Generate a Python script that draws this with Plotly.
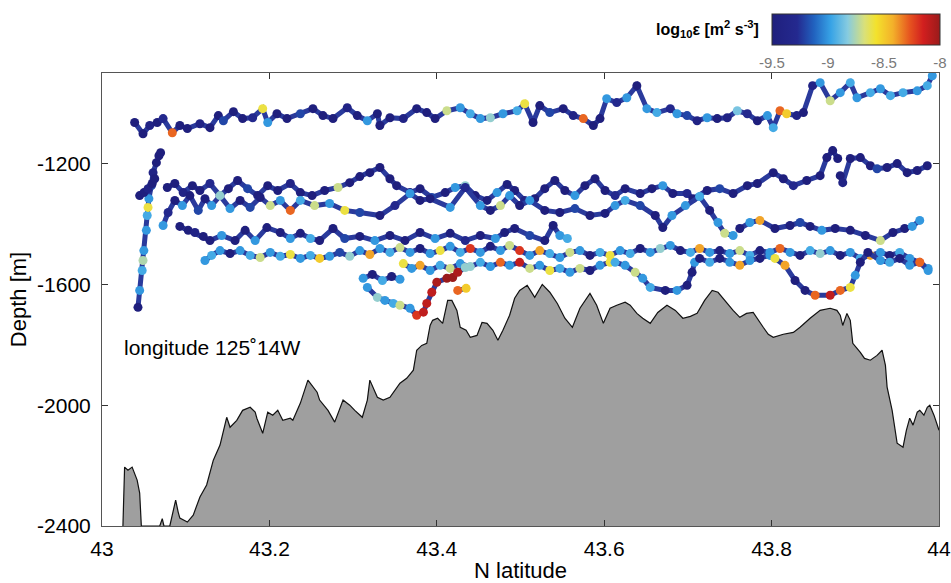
import plotly.graph_objects as go

# ---------------- data ----------------
x_tickvals = [43.0, 43.2, 43.4, 43.6, 43.8, 44.0]
x_ticktext = ["43", "43.2", "43.4", "43.6", "43.8", "44"]
y_tickvals = [-2400, -2000, -1600, -1200]
y_ticktext = ["-2400", "-2000", "-1600", "-1200"]
cb_tickvals = [-9.5, -9.0, -8.5, -8.0]
cb_ticktext = ["-9.5", "-9", "-8.5", "-8"]

bathy_lat = [43.025, 43.027, 43.031, 43.036, 43.042, 43.045, 43.047, 43.069, 43.072, 43.074,
             43.081, 43.088, 43.091, 43.093, 43.102, 43.109, 43.117, 43.125, 43.133, 43.141,
             43.149, 43.153, 43.161, 43.168, 43.177, 43.183, 43.185, 43.192, 43.198, 43.204,
             43.210, 43.216, 43.225, 43.228, 43.237, 43.246, 43.257, 43.260, 43.270, 43.278,
             43.288, 43.296, 43.302, 43.311, 43.317, 43.320, 43.329, 43.336, 43.344, 43.356,
             43.364, 43.372, 43.376, 43.382, 43.388, 43.392, 43.395, 43.401, 43.407, 43.413,
             43.418, 43.424, 43.428, 43.435, 43.440, 43.448, 43.454, 43.460, 43.467, 43.473,
             43.479, 43.487, 43.493, 43.499, 43.508, 43.517, 43.526, 43.535, 43.544, 43.553,
             43.562, 43.571, 43.583, 43.591, 43.599, 43.607, 43.615, 43.625, 43.631, 43.639,
             43.646, 43.655, 43.664, 43.675, 43.685, 43.694, 43.703, 43.711, 43.720, 43.729,
             43.736, 43.747, 43.754, 43.762, 43.770, 43.778, 43.784, 43.790, 43.796, 43.802,
             43.814, 43.826, 43.834, 43.846, 43.858, 43.870, 43.878, 43.882, 43.885, 43.890,
             43.894, 43.897, 43.906, 43.911, 43.918, 43.926, 43.932, 43.936, 43.938, 43.944,
             43.950, 43.953, 43.957, 43.961, 43.965, 43.969, 43.974, 43.977, 43.982, 43.986,
             43.989, 43.994, 44.0]
bathy_dep = [-2400, -2205, -2215, -2205, -2248, -2291, -2400, -2400, -2376, -2400,
             -2400, -2314, -2354, -2374, -2387, -2364, -2304, -2264, -2182, -2132,
             -2040, -2073, -2050, -2017, -2007, -2023, -2043, -2093, -2023, -2033,
             -2017, -2050, -2043, -2050, -1993, -1917, -1957, -1983, -2017, -2056,
             -1983, -2000, -2017, -2040, -1983, -1917, -1974, -1983, -1974, -1927,
             -1911, -1884, -1818, -1802, -1795, -1736, -1719, -1712, -1729, -1653,
             -1653, -1686, -1742, -1752, -1775, -1769, -1726, -1729, -1752, -1785,
             -1752, -1702, -1646, -1620, -1603, -1643, -1600, -1626, -1663, -1712,
             -1742, -1679, -1630, -1669, -1729, -1679, -1669, -1659, -1669, -1696,
             -1712, -1729, -1693, -1669, -1686, -1712, -1706, -1696, -1653, -1620,
             -1626, -1663, -1686, -1709, -1696, -1693, -1719, -1742, -1765, -1775,
             -1765, -1759, -1742, -1712, -1686, -1679, -1686, -1702, -1736, -1696,
             -1719, -1795, -1825, -1845, -1851, -1835, -1818, -1868, -1940, -2017,
             -2126, -2132, -2139, -2083, -2043, -2066, -2023, -2017, -2033, -2007,
             -2000, -2033, -2083]

# track 1 (shallowest)
t1_lat = [43.039, 43.049, 43.057, 43.066, 43.073, 43.084, 43.093, 43.102, 43.117, 43.129,
          43.139, 43.145, 43.157, 43.168, 43.180, 43.192, 43.198, 43.209, 43.221, 43.237,
          43.252, 43.264, 43.276, 43.293, 43.305, 43.317, 43.329, 43.332, 43.344, 43.360,
          43.376, 43.388, 43.398, 43.412, 43.428, 43.440, 43.452, 43.464, 43.479, 43.496,
          43.505, 43.515, 43.523, 43.535, 43.551, 43.563, 43.575, 43.587, 43.595, 43.603,
          43.615, 43.627, 43.639, 43.651, 43.663, 43.679, 43.687, 43.699, 43.711, 43.723,
          43.735, 43.747, 43.759, 43.771, 43.783, 43.795, 43.802, 43.810, 43.818, 43.830,
          43.838, 43.849, 43.858, 43.870, 43.882, 43.894, 43.902, 43.918, 43.930, 43.942,
          43.957, 43.974, 43.986, 43.992]
t1_dep = [-1064, -1101, -1074, -1064, -1051, -1098, -1074, -1084, -1068, -1081,
          -1041, -1058, -1028, -1051, -1048, -1018, -1064, -1035, -1051, -1035,
          -1018, -1041, -1051, -1015, -1041, -1058, -1035, -1074, -1048, -1051,
          -1018, -1031, -1051, -1025, -1015, -1035, -1051, -1048, -1035, -1025,
          -1002, -1064, -1008, -1031, -1018, -1041, -1051, -1074, -1051, -985,
          -998, -982, -942, -1018, -1031, -1018, -1035, -1041, -1058, -1048,
          -1051, -1048, -1025, -1035, -1058, -1041, -1081, -1025, -1035, -1041,
          -1031, -942, -932, -992, -965, -932, -982, -965, -952, -975,
          -965, -959, -942, -909]
t1_eps = [-9.5, -9.5, -9.4, -9.5, -9.3, -8.3, -9.5, -9.5, -9.4, -9.5,
          -9.5, -9.2, -9.5, -9.5, -9.3, -8.6, -9.0, -9.5, -9.5, -9.2,
          -9.5, -9.5, -9.5, -9.4, -9.5, -9.0, -9.5, -9.5, -9.5, -9.4,
          -9.5, -9.5, -9.5, -8.7, -9.0, -8.95, -9.0, -8.8, -9.0, -8.95,
          -8.6, -9.5, -9.5, -9.2, -9.5, -9.4, -8.3, -9.5, -9.5, -9.0,
          -9.3, -9.0, -9.5, -9.0, -8.95, -9.3, -9.0, -9.2, -9.4, -9.0,
          -9.5, -9.4, -8.85, -9.3, -9.5, -9.0, -8.95, -8.3, -8.5, -9.4,
          -9.5, -9.4, -9.0, -8.7, -9.0, -8.95, -9.0, -8.95, -9.0, -8.95,
          -8.95, -9.0, -8.95, -9.0]

# track 2 (steep rise near 43.05)
t2_lat = [43.043, 43.045, 43.048, 43.049, 43.050, 43.053, 43.054, 43.055, 43.056, 43.059,
          43.061, 43.065, 43.068, 43.070]
t2_dep = [-1676, -1620, -1554, -1521, -1488, -1421, -1372, -1345, -1316, -1273,
          -1230, -1197, -1174, -1164]
t2_eps = [-9.5, -9.0, -8.95, -8.75, -9.0, -9.0, -8.95, -8.6, -9.0, -9.2,
          -9.4, -9.5, -9.5, -9.5]
t2b_lat = [43.045, 43.050, 43.055, 43.060, 43.063]
t2b_dep = [-1306, -1296, -1283, -1266, -1250]
t2b_eps = [-9.5, -9.5, -9.4, -9.5, -9.5]

# track 3 (upper middle)
t3_lat = [43.078, 43.087, 43.097, 43.108, 43.117, 43.129, 43.141, 43.151, 43.162, 43.174,
          43.186, 43.198, 43.210, 43.225, 43.237, 43.251, 43.266, 43.282, 43.296, 43.308,
          43.320, 43.332, 43.344, 43.352, 43.368, 43.380, 43.394, 43.410, 43.422, 43.434,
          43.446, 43.460, 43.472, 43.484, 43.493, 43.505, 43.517, 43.529, 43.541, 43.553,
          43.565, 43.577, 43.589, 43.601, 43.613, 43.625, 43.643, 43.657, 43.670, 43.682,
          43.699, 43.706, 43.723, 43.738, 43.754, 43.771, 43.783, 43.802, 43.814, 43.826,
          43.842, 43.858, 43.866, 43.873, 43.879]
t3_dep = [-1279, -1266, -1296, -1273, -1289, -1266, -1306, -1283, -1256, -1283,
          -1306, -1273, -1289, -1266, -1296, -1306, -1289, -1279, -1263, -1243,
          -1230, -1213, -1250, -1273, -1296, -1283, -1312, -1296, -1279, -1273,
          -1306, -1322, -1296, -1269, -1289, -1322, -1316, -1283, -1256, -1289,
          -1306, -1273, -1250, -1289, -1306, -1283, -1299, -1283, -1273, -1299,
          -1299, -1316, -1289, -1283, -1299, -1273, -1266, -1230, -1250, -1273,
          -1256, -1240, -1180, -1157, -1183]
t3_eps = [-9.5, -9.5, -9.4, -9.5, -9.5, -9.3, -9.5, -9.5, -9.5, -9.2,
          -9.5, -9.5, -9.5, -9.4, -9.5, -9.5, -9.5, -8.7, -9.5, -9.5,
          -9.5, -9.5, -9.5, -9.5, -9.4, -9.5, -9.2, -9.5, -9.0, -8.8,
          -9.5, -9.5, -9.0, -9.5, -9.5, -9.4, -9.5, -9.5, -9.5, -9.5,
          -9.0, -9.5, -9.5, -9.5, -9.3, -9.5, -9.5, -9.5, -9.0, -9.5,
          -9.3, -9.5, -9.5, -9.2, -9.5, -9.5, -9.5, -9.5, -9.5, -9.3,
          -9.5, -9.5, -9.5, -9.5, -9.5]
t3b_lat = [43.882, 43.885, 43.894, 43.906, 43.918, 43.926, 43.938, 43.950, 43.962, 43.974, 43.986]
t3b_dep = [-1240, -1263, -1183, -1180, -1207, -1217, -1213, -1200, -1230, -1223, -1207]
t3b_eps = [-9.5, -9.4, -9.5, -9.5, -9.5, -9.2, -9.5, -9.5, -9.5, -9.5, -9.5]

# track 4 (second middle, mixed)
t4_lat = [43.073, 43.079, 43.087, 43.096, 43.105, 43.115, 43.123, 43.131, 43.141, 43.153,
          43.165, 43.177, 43.189, 43.201, 43.213, 43.225, 43.237, 43.254, 43.272, 43.290,
          43.308, 43.332, 43.350, 43.368, 43.380, 43.392, 43.416, 43.434, 43.452, 43.464,
          43.476, 43.487, 43.499, 43.511, 43.529, 43.547, 43.565, 43.583, 43.601, 43.613,
          43.625, 43.643, 43.661, 43.670, 43.681, 43.697, 43.714, 43.726, 43.736, 43.744,
          43.754]
t4_dep = [-1405, -1362, -1322, -1339, -1306, -1355, -1316, -1339, -1306, -1349,
          -1322, -1345, -1312, -1339, -1322, -1355, -1322, -1339, -1332, -1355,
          -1362, -1372, -1339, -1299, -1322, -1316, -1345, -1279, -1339, -1355,
          -1339, -1306, -1339, -1322, -1355, -1362, -1349, -1372, -1365, -1339,
          -1322, -1339, -1372, -1412, -1372, -1339, -1309, -1355, -1395, -1431,
          -1438]
t4_eps = [-9.0, -9.3, -9.5, -9.0, -9.5, -9.2, -9.5, -9.0, -8.8, -9.0,
          -9.5, -9.2, -9.5, -8.7, -9.0, -8.3, -8.95, -8.7, -9.0, -8.6,
          -9.2, -9.5, -9.3, -9.0, -9.5, -9.5, -9.0, -9.3, -9.0, -9.5,
          -8.7, -9.0, -9.5, -9.0, -9.5, -9.5, -9.2, -9.5, -9.5, -9.0,
          -8.95, -9.2, -9.5, -9.5, -9.0, -9.0, -8.95, -9.5, -9.0, -8.7,
          -9.0]
t4b_lat = [43.762, 43.774, 43.786, 43.804, 43.822, 43.834, 43.846, 43.860, 43.876, 43.894,
           43.912, 43.930, 43.945, 43.959, 43.968, 43.977]
t4b_dep = [-1415, -1395, -1388, -1415, -1405, -1395, -1408, -1421, -1415, -1421,
           -1438, -1455, -1428, -1415, -1408, -1388]
t4b_eps = [-9.5, -9.0, -8.4, -9.5, -9.5, -9.2, -9.5, -9.0, -9.5, -9.5,
           -9.5, -8.7, -9.5, -9.5, -9.0, -9.0]

# track 5 (left band near -1430 m)
t5_lat = [43.093, 43.103, 43.111, 43.121, 43.129, 43.143, 43.159, 43.171, 43.183, 43.197,
          43.213, 43.225, 43.237, 43.249, 43.260, 43.276, 43.290, 43.308, 43.326, 43.344,
          43.362, 43.380, 43.398, 43.416, 43.434, 43.452, 43.470, 43.481, 43.493, 43.511,
          43.529, 43.539, 43.547, 43.556]
t5_dep = [-1408, -1421, -1428, -1441, -1455, -1438, -1455, -1421, -1455, -1412,
          -1428, -1448, -1431, -1448, -1455, -1415, -1448, -1441, -1455, -1438,
          -1455, -1428, -1448, -1431, -1455, -1438, -1448, -1428, -1415, -1438,
          -1455, -1405, -1438, -1448]
t5_eps = [-9.5, -9.5, -9.4, -9.5, -9.5, -9.0, -9.5, -9.5, -9.0, -9.5,
          -9.5, -9.0, -9.5, -8.95, -9.5, -9.5, -9.2, -9.5, -9.0, -9.5,
          -9.5, -9.5, -9.0, -9.5, -9.3, -9.5, -9.0, -9.5, -9.5, -9.2,
          -9.5, -9.5, -9.0, -8.95]

# track 6 (upper part of the deep band)
t6_lat = [43.123, 43.131, 43.141, 43.153, 43.165, 43.177, 43.189, 43.201, 43.213, 43.225,
          43.237, 43.249, 43.260, 43.272, 43.284, 43.296, 43.308, 43.320, 43.332, 43.344,
          43.356, 43.368, 43.380, 43.392, 43.404, 43.416, 43.428, 43.440, 43.452, 43.464,
          43.476, 43.487, 43.499, 43.511, 43.523, 43.535, 43.547, 43.559, 43.571, 43.583,
          43.595, 43.607, 43.619, 43.631, 43.643, 43.655, 43.667, 43.679, 43.691, 43.703,
          43.714, 43.726, 43.738, 43.750, 43.762, 43.774, 43.786, 43.798, 43.810, 43.822,
          43.834, 43.846, 43.858, 43.870, 43.882, 43.894, 43.906, 43.918, 43.930, 43.941,
          43.953, 43.965, 43.977, 43.987]
t6_dep = [-1521, -1504, -1488, -1498, -1488, -1504, -1511, -1494, -1507, -1501,
          -1514, -1504, -1514, -1507, -1494, -1507, -1488, -1501, -1481, -1494,
          -1478, -1494, -1481, -1498, -1488, -1474, -1494, -1481, -1494, -1474,
          -1488, -1471, -1488, -1504, -1488, -1498, -1511, -1494, -1488, -1504,
          -1494, -1504, -1488, -1498, -1481, -1494, -1481, -1471, -1488, -1494,
          -1481, -1494, -1488, -1498, -1488, -1504, -1488, -1494, -1481, -1494,
          -1504, -1488, -1498, -1488, -1504, -1494, -1514, -1504, -1494, -1504,
          -1494, -1514, -1527, -1547]
t6_eps = [-9.0, -8.95, -9.0, -9.5, -9.0, -8.95, -8.7, -9.0, -8.95, -8.6,
          -9.0, -8.95, -8.5, -9.0, -9.2, -8.8, -9.0, -8.4, -9.0, -8.95,
          -8.7, -9.0, -9.5, -9.0, -8.6, -9.0, -8.95, -8.2, -9.0, -9.5,
          -9.0, -8.7, -8.2, -9.0, -8.4, -8.95, -9.0, -8.7, -9.0, -9.5,
          -8.95, -8.6, -9.0, -8.95, -9.5, -9.0, -8.8, -9.0, -9.5, -8.95,
          -8.4, -9.0, -9.5, -9.0, -8.7, -8.95, -9.5, -9.0, -8.3, -9.0,
          -9.5, -8.95, -8.8, -9.0, -9.5, -9.0, -8.95, -8.4, -9.0, -9.5,
          -8.95, -9.0, -8.2, -9.0]

# track 7 (lower part of the deep band, with two dips)
t7_lat = [43.360, 43.370, 43.380, 43.392, 43.404, 43.416, 43.428, 43.440, 43.452, 43.464,
          43.476, 43.487, 43.499, 43.511, 43.523, 43.535, 43.547, 43.559, 43.571, 43.583,
          43.595, 43.607, 43.613, 43.625, 43.637, 43.646, 43.655, 43.673, 43.687, 43.699,
          43.705, 43.708, 43.714, 43.726, 43.738, 43.750, 43.762, 43.774, 43.786, 43.798,
          43.804, 43.816, 43.828, 43.840, 43.852, 43.870, 43.882, 43.894, 43.900, 43.906,
          43.915, 43.930, 43.941, 43.953, 43.965, 43.977, 43.987]
t7_dep = [-1531, -1547, -1537, -1554, -1537, -1547, -1531, -1541, -1527, -1541,
          -1527, -1537, -1527, -1547, -1537, -1554, -1547, -1560, -1547, -1554,
          -1537, -1527, -1527, -1537, -1560, -1580, -1610, -1620, -1620, -1603,
          -1560, -1527, -1514, -1527, -1514, -1527, -1537, -1521, -1514, -1504,
          -1514, -1537, -1587, -1620, -1636, -1636, -1620, -1610, -1570, -1527,
          -1494, -1521, -1527, -1514, -1537, -1527, -1554]
t7_eps = [-8.6, -9.0, -8.4, -9.0, -8.95, -8.7, -9.0, -8.8, -8.95, -9.0,
          -8.3, -9.0, -8.1, -8.7, -9.0, -8.6, -8.95, -9.0, -8.7, -9.5,
          -9.0, -8.6, -8.95, -9.0, -8.7, -9.0, -8.95, -9.5, -9.0, -9.5,
          -9.5, -9.0, -9.5, -8.95, -9.5, -9.0, -8.4, -9.0, -9.5, -9.0,
          -8.6, -8.4, -9.5, -9.5, -8.3, -8.1, -8.3, -8.6, -9.0, -9.5,
          -9.5, -9.0, -8.95, -9.5, -9.0, -8.3, -9.0]

# track 8 (deep loop with the red patch near 43.4)
t8_lat = [43.317, 43.329, 43.338, 43.348, 43.356, 43.368, 43.376, 43.384, 43.388, 43.394,
          43.400, 43.412, 43.419, 43.425, 43.434]
t8_dep = [-1610, -1643, -1653, -1663, -1669, -1679, -1702, -1692, -1663, -1626,
          -1593, -1580, -1577, -1560, -1544]
t8_eps = [-9.0, -8.8, -9.0, -8.95, -8.7, -9.0, -8.2, -8.1, -8.1, -8.1,
          -8.05, -8.0, -8.0, -8.05, -8.8]

# short segments
t9_lat = [43.312, 43.323, 43.335, 43.346, 43.356]
t9_dep = [-1580, -1567, -1587, -1574, -1583]
t9_eps = [-9.0, -9.5, -8.95, -9.5, -9.0]
t10_lat = [43.425, 43.435]
t10_dep = [-1620, -1613]
t10_eps = [-8.3, -8.5]

# ---------------- figure ----------------
fig = go.Figure()

# bathymetry fill (closed down to the bottom of the axis)
fig.add_trace(go.Scatter(
    x=bathy_lat + [44.0, 43.0, 43.0], y=bathy_dep + [-2450, -2450, -2400],
    mode="lines", fill="toself", fillcolor="#9f9f9f",
    line=dict(width=0, color="rgba(0,0,0,0)"), hoverinfo="skip", showlegend=False))
fig.add_trace(go.Scatter(
    x=bathy_lat, y=bathy_dep, mode="lines",
    line=dict(color="#111111", width=1.2), hoverinfo="skip", showlegend=False))

tracks = [
    (t1_lat, t1_dep, t1_eps), (t2_lat, t2_dep, t2_eps), (t2b_lat, t2b_dep, t2b_eps),
    (t3_lat, t3_dep, t3_eps), (t3b_lat, t3b_dep, t3b_eps),
    (t4_lat, t4_dep, t4_eps), (t4b_lat, t4b_dep, t4b_eps),
    (t5_lat, t5_dep, t5_eps), (t6_lat, t6_dep, t6_eps), (t7_lat, t7_dep, t7_eps),
    (t8_lat, t8_dep, t8_eps), (t9_lat, t9_dep, t9_eps), (t10_lat, t10_dep, t10_eps),
]
for lat, dep, eps in tracks:
    fig.add_trace(go.Scatter(
        x=lat, y=dep, mode="lines+markers",
        line=dict(color="#2a3a9c", width=5),
        marker=dict(color=eps, coloraxis="coloraxis", size=9, line=dict(width=0)),
        showlegend=False))

colorscale = [
    [0.0, "#1f1f7d"], [0.15, "#24298f"], [0.25, "#2162bf"], [0.35, "#37a3e6"],
    [0.45, "#86cbe0"], [0.55, "#d9e07a"], [0.62, "#f3e22c"], [0.72, "#f3b02a"],
    [0.82, "#e6541f"], [0.9, "#d21f1f"], [1.0, "#9a1b1b"],
]

W, H = 951, 583
L, R, T, B = 102, 12, 73, 57
pw, ph = W - L - R, H - T - B

fig.update_layout(
    width=W, height=H,
    margin=dict(l=L, r=R, t=T, b=B, pad=0, autoexpand=False),
    paper_bgcolor="white", plot_bgcolor="white",
    font=dict(family="Liberation Sans, Arial, sans-serif", color="black"),
    coloraxis=dict(
        colorscale=colorscale, cmin=-9.5, cmax=-8.0,
        colorbar=dict(
            orientation="h", x=(856 - L) / pw, xanchor="center",
            y=(H - B - 14) / ph, yanchor="top",
            len=168 / pw, lenmode="fraction", thickness=31, thicknessmode="pixels",
            outlinewidth=1, outlinecolor="#333333",
            tickvals=cb_tickvals, ticktext=cb_ticktext,
            ticks="outside", ticklen=5, tickcolor="rgba(0,0,0,0)",
            tickfont=dict(size=15, color="#7a7a7a"),
            xpad=0, ypad=0,
        ),
    ),
    xaxis=dict(
        range=[43.0, 44.0], tickvals=x_tickvals, ticktext=x_ticktext,
        ticks="inside", ticklen=6, tickcolor="#333", showline=True, linecolor="#555",
        linewidth=1, mirror="ticks", showgrid=False, zeroline=False,
        tickfont=dict(size=21), ticklabelstandoff=4,
        title=dict(text="N latitude", font=dict(size=22), standoff=8),
    ),
    yaxis=dict(
        range=[-2400, -900], tickvals=y_tickvals, ticktext=y_ticktext,
        ticks="inside", ticklen=6, tickcolor="#333", showline=True, linecolor="#555",
        linewidth=1, mirror="ticks", showgrid=False, zeroline=False,
        tickfont=dict(size=21), ticklabelstandoff=6,
        title=dict(text="Depth [m]", font=dict(size=22), standoff=4),
    ),
    annotations=[
        dict(text="longitude 125˚14W", x=43.024, y=-1808, xref="x", yref="y",
             xanchor="left", yanchor="middle", showarrow=False,
             font=dict(size=21, color="black")),
        dict(text="<b>log<sub>10</sub>ε [m<sup>2</sup> s<sup>-3</sup>]</b>",
             x=(761 - L) / pw, y=(H - B - 29) / ph, xref="paper", yref="paper",
             xanchor="right", yanchor="middle", showarrow=False,
             font=dict(size=16, color="black")),
    ],
)

fig.write_html("out.html")
